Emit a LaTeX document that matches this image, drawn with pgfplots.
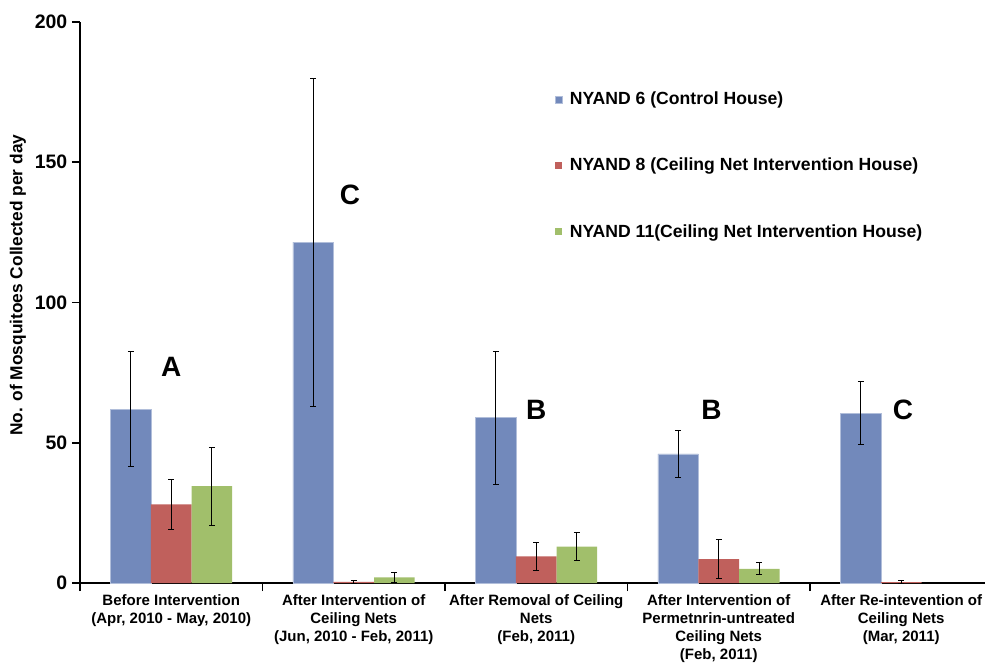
\documentclass[border=0pt]{standalone}
\usepackage{fontspec}
\setmainfont{Liberation Sans}
\usepackage{pgfplots}
\pgfplotsset{compat=1.18}
\definecolor{cblue}{RGB}{114,137,187}
\definecolor{cred}{RGB}{192,96,92}
\definecolor{cgreen}{RGB}{161,191,107}
\begin{document}
\begin{tikzpicture}
\begin{axis}[
  at={(0,0)}, anchor=south west,
  scale only axis, width=678.75pt, height=420.75pt,
  ybar, bar width=0.222,
  xmin=-0.5, xmax=4.459, ymin=0, ymax=200,
  axis lines*=left,
  axis line style={black, line width=1.6pt},
  /pgf/number format/assume math mode=true,
  ytick={0,50,100,150,200},
  tick align=outside, major tick length=6pt, minor tick length=6pt,
  y tick style={black, line width=1.2pt},
  xtick={0,1,2,3,4},
  major x tick style={draw=none},
  minor xtick={-0.5,0.5,1.5,2.5,3.5},
  minor x tick style={black, line width=1.2pt},
  xticklabels={{Before Intervention\\(Apr, 2010 - May, 2010)},
               {After Intervention of\\Ceiling Nets\\(Jun, 2010 - Feb, 2011)},
               {After Removal of Ceiling\\Nets\\(Feb, 2011)},
               {After Intervention of\\Permetnrin-untreated\\Ceiling Nets\\(Feb, 2011)},
               {After Re-intevention of\\Ceiling Nets\\(Mar, 2011)}},
  x tick label style={align=center, font=\bfseries\fontsize{11.25}{13.4}\selectfont, yshift=0.5pt},
  y tick label style={font=\bfseries\fontsize{14.6}{17}\selectfont},
  ylabel={No. of Mosquitoes Collected per day},
  ylabel style={at={(rel axis cs:0,0.5)}, anchor=center, xshift=13pt, yshift=46.5pt,
                font=\bfseries\fontsize{13}{15}\selectfont},
  legend style={at={(0.52,0.885)}, anchor=north west, draw=none, fill=none,
                font=\bfseries\fontsize{13.2}{15.8}\selectfont, row sep=34.5pt,
                cells={anchor=west}},
  legend image code/.code={\fill[#1] (0pt,-2.6pt) rectangle (5.25pt,2.6pt);},
  error bars/y dir=both, error bars/y explicit,
  error bars/error bar style={black, line width=0.75pt},
  error bars/error mark options={black, line width=0.75pt, mark size=2.2pt, rotate=90},
]
\addplot[fill=cblue, draw=cblue!55!white, line width=0.5pt, bar shift=-0.222] coordinates {
  (0,62) += (0,20.5) -= (0,20.5)
  (1,121.5) += (0,58.5) -= (0,58.5)
  (2,59) += (0,23.5) -= (0,24)
  (3,46) += (0,8.5) -= (0,8.5)
  (4,60.5) += (0,11.3) -= (0,11)
};
\addplot[fill=cred, draw=none, bar shift=0] coordinates {
  (0,28) += (0,9) -= (0,9)
  (1,0.4) += (0,0.5) -= (0,0.4)
  (2,9.5) += (0,5) -= (0,5)
  (3,8.5) += (0,7) -= (0,7)
  (4,0.3) += (0,0.6) -= (0,0.3)
};
\addplot[fill=cgreen, draw=none, bar shift=0.222] coordinates {
  (0,34.5) += (0,13.7) -= (0,14)
  (1,2) += (0,1.9) -= (0,1.9)
  (2,13) += (0,5) -= (0,5)
  (3,5) += (0,2.2) -= (0,2.1)
};
\legend{\hspace{3.5pt}NYAND 6 (Control House), \hspace{3.5pt}NYAND 8 (Ceiling Net Intervention House), \hspace{3.5pt}NYAND 11(Ceiling Net Intervention House)}
\node[font=\bfseries\fontsize{21}{25}\selectfont] at (axis cs:0,77) {A};
\node[font=\bfseries\fontsize{21}{25}\selectfont] at (axis cs:0.98,138.3) {C};
\node[font=\bfseries\fontsize{21}{25}\selectfont] at (axis cs:2,61.7) {B};
\node[font=\bfseries\fontsize{21}{25}\selectfont] at (axis cs:2.96,61.7) {B};
\node[font=\bfseries\fontsize{21}{25}\selectfont] at (axis cs:4.01,61.7) {C};
\end{axis}
\pgfresetboundingbox
\path[use as bounding box] (-60pt,-59.25pt) rectangle (678.75pt,437.25pt);
\end{tikzpicture}
\end{document}
